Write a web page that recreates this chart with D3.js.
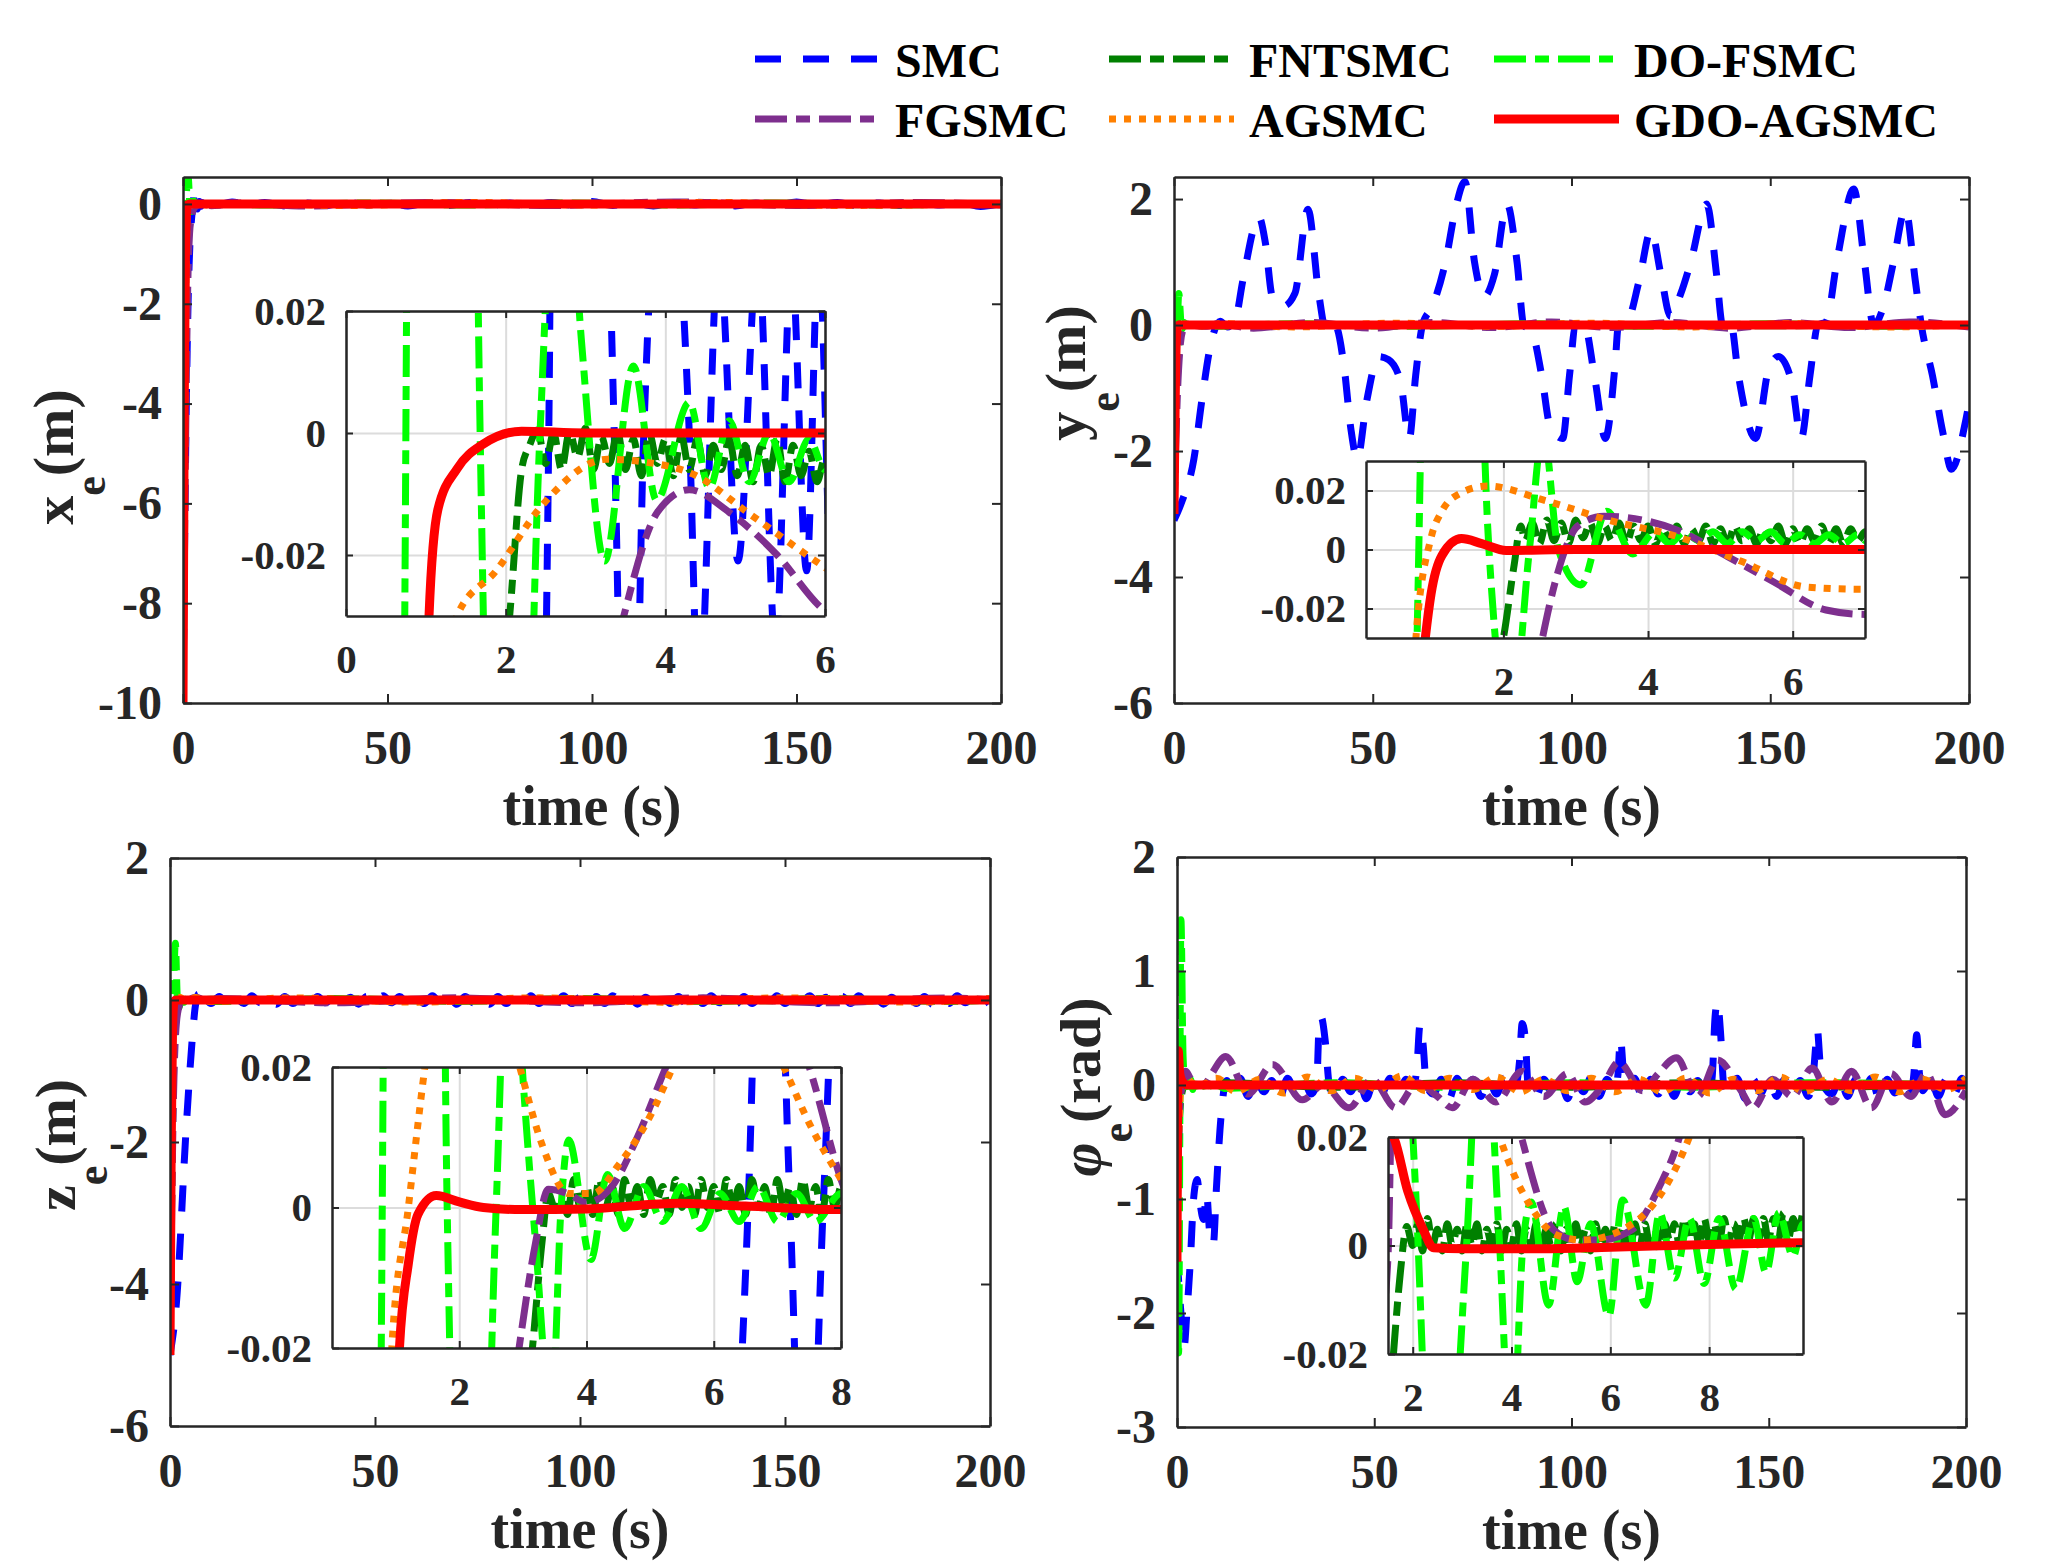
<!DOCTYPE html>
<html>
<head>
<meta charset="utf-8">
<script src="https://cdn.jsdelivr.net/npm/d3@7"></script>
<style>
  body { margin: 0; background: #fff; }
</style>
</head>
<body>
<script>
// Réglages généraux
const W = 2048, H = 1563;
const FONT = '"Liberation Serif","Times New Roman",Times,serif';
const INK = '#262626';

// Séries (ordre du tracé)
const names  = ['SMC', 'FNTSMC', 'DO-FSMC', 'FGSMC', 'AGSMC', 'GDO-AGSMC'];
const colors = ['#0000ff', '#008000', '#00ff00', '#7e2f8e', '#ff8000', '#ff0000'];
const dashes = ['26,22', '32,9,14,9', '32,9,14,9', '32,9,14,9', '7,8', null];
const widths = [7, 7, 7, 7, 7, 9];

// Graduations
const timeTicks = [0, 50, 100, 150, 200];

// ---------- x_e (m) ----------
const xe_smc = [[0,-10],[0.5,-6],[1.0,-3],[1.5,-1.2],[2.0,-0.4],[2.2,-0.2],[2.54,0],[2.7,0.3],[3.05,0.15],[3.36,0],[3.55,-0.1],[3.73,0],[4.0,0.05],[4.3,0],[4.42,-0.045],[4.67,0.03],[4.91,-0.021],[5.16,0.03],[5.38,-0.035],[5.58,0.028],[5.77,-0.0226],[5.92,0.03],[6.1,-0.03],
  [8,-0.03],[12,0.04],[16,-0.02],[20,0.03],[25,-0.04],[30,0.02],[35,-0.03],[40,0.04],[45,-0.02],[50,0.03],[55,-0.04],[60,0.02],[65,-0.03],[70,0.03],[75,-0.03],[80,0.02],[85,-0.04],[90,0.03],[95,-0.02],[100,0.05],[105,-0.03],[110,0.02],[115,-0.04],[120,0.03],[125,-0.02],[130,0.03],[135,-0.04],[140,0.02],[145,-0.03],[150,0.04],[155,-0.02],[160,0.03],[165,-0.04],[170,0.02],[175,-0.03],[180,0.03],[185,-0.02],[190,0.03],[195,-0.05],[200,0.01]];
const xe_fnt = [[0,-10],[0.5,-4],[1.0,-1],[1.5,-0.2],[1.9,-0.05],[2.05,-0.03],[2.2,-0.006],[2.3,-0.002],
  [2.4,0.0005],[2.5,-0.005],[2.6,0.0],[2.7,-0.006],[2.8,0.0003],[2.9,-0.004],[3.0,0.0008],[3.1,-0.006],[3.2,-0.0005],[3.3,-0.005],[3.4,0.0002],[3.5,-0.006],[3.6,-0.001],[3.7,-0.007],[3.8,0.0],[3.9,-0.005],[4.0,-0.001],[4.1,-0.007],[4.2,-0.0005],[4.3,-0.006],[4.4,-0.001],[4.5,-0.007],[4.6,-0.002],[4.7,-0.006],[4.8,-0.001],[4.9,-0.007],[5.0,-0.002],[5.1,-0.008],[5.2,-0.002],[5.3,-0.007],[5.4,-0.001],[5.5,-0.008],[5.6,-0.002],[5.7,-0.007],[5.8,-0.003],[5.9,-0.008],[6.0,-0.004],
  [7,-0.003],[10,0.01],[30,-0.01],[60,0.01],[90,-0.01],[120,0.01],[150,-0.01],[180,0.01],[200,0]];
const xe_dof = [[0,-10],[0.35,-3],[0.6,-0.4],[0.75,0],[1.2,0.6],[1.68,0],[2.05,-0.15],[2.43,0],[2.7,0.06],[2.95,0.015],[3.24,-0.021],[3.6,0.011],[3.89,-0.011],[4.3,0.005],[4.55,-0.009],[4.8,0.002],[5.05,-0.008],[5.3,0.0],[5.55,-0.008],[5.8,-0.001],[6.0,-0.006],
  [8,0.01],[20,-0.02],[45,0.02],[70,-0.02],[95,0.02],[120,-0.02],[145,0.02],[170,-0.02],[200,0.01]];
const xe_fg = [[0,-10],[0.6,-5],[1.2,-1.5],[1.6,-0.6],[2.0,-0.3],[2.5,-0.12],[3.0,-0.06],[3.48,-0.03],[3.9,-0.013],[4.3,-0.0093],[4.8,-0.013],[5.4,-0.02],[5.94,-0.0285],[7,-0.035],[9,-0.02],
  [12,0.02],[30,-0.04],[60,0.03],[90,-0.03],[120,0.04],[150,-0.03],[180,0.03],[200,-0.02]];
const xe_ag = [[0,-10],[0.5,-3],[1.0,-0.3],[1.2,-0.1],[1.3,-0.045],[1.39,-0.03],[1.88,-0.0226],[2.46,-0.0118],[3.27,-0.0043],[3.77,-0.0048],[4.34,-0.0067],[5.07,-0.0134],[5.94,-0.0215],[7,-0.03],[9,-0.01],
  [12,0.01],[40,-0.03],[70,0.03],[100,-0.02],[130,0.03],[160,-0.03],[200,0.01]];
const xe_gdo = [[0,-10],[0.3,-4],[0.6,-1],[0.85,-0.2],[1.04,-0.03],[1.15,-0.0126],[1.39,-0.0059],[1.72,-0.0018],[2.2,0.0003],[3,0],[6,0],[200,0]];

// ---------- y_e (m) ----------
const ye_smc = [[0,-3.1],[2,-2.8],[5,-2.13],[7,-1.2],[9.1,-0.35],[11.6,0.06],[13.5,-0.03],[15.5,0.1],[17.3,0.7],[21.4,1.71],[23,1.3],[24.7,0.46],[27.5,0.3],[30.4,0.5],[33.7,1.84],[36.4,0.5],[38.3,-0.1],[40.5,0.0],[42.8,-0.67],[44.5,-1.65],[46.1,-2.13],[48.5,-1.2],[51.5,-0.5],[54,-0.55],[57,-0.9],[59.2,-1.8],[60.8,-0.8],[62.5,0.0],[65,0.3],[68.3,1.0],[71,1.9],[73.2,2.28],[75.6,1.0],[78,0.45],[80.6,0.8],[83.8,1.92],[86.3,1.0],[88,0.0],[90,-0.1],[92.5,-0.8],[94.6,-1.6],[97.8,-1.8],[99.5,-0.8],[101,0.0],[103,0.05],[106,-0.9],[108.5,-1.8],[111,-0.6],[111.8,0.0],[114,0.05],[117,0.7],[120,1.5],[122.5,0.8],[124.9,0.14],[127.5,0.5],[130,1.0],[134,1.92],[136.5,0.8],[138,0.0],[140,0.05],[142,-0.8],[146.3,-1.8],[149.6,-0.7],[152,-0.5],[155.4,-0.9],[157.8,-1.8],[160,-0.8],[162,0.0],[164,0.05],[167,1.1],[171,2.16],[173.7,1.0],[176,0.0],[178.5,0.3],[181,1.0],[184,1.84],[186.5,0.7],[188,0.0],[190.8,-0.8],[193.4,-1.7],[195.6,-2.29],[198.9,-1.6],[200,-1.24]];
const ye_fnt = [[0,-3],[0.7,-1],[1.4,-0.2],[1.8,-0.05],[2.0,-0.03],[2.15,-0.005],[2.24,0.008],
  [2.3,0.003],[2.4,0.009],[2.5,0.002],[2.6,0.01],[2.7,0.003],[2.8,0.009],[2.9,0.002],[3.0,0.01],[3.1,0.004],[3.2,0.009],[3.3,0.002],[3.4,0.008],[3.5,0.003],[3.6,0.009],[3.7,0.002],[3.8,0.008],[3.9,0.003],[4.0,0.008],[4.1,0.002],[4.2,0.007],[4.3,0.003],[4.4,0.008],[4.5,0.002],[4.6,0.007],[4.7,0.003],[4.8,0.008],[4.9,0.002],[5.0,0.007],[5.1,0.002],[5.2,0.008],[5.3,0.003],[5.4,0.007],[5.5,0.002],[5.6,0.007],[5.7,0.003],[5.8,0.008],[5.9,0.002],[6.0,0.007],[6.1,0.002],[6.2,0.007],[6.3,0.003],[6.4,0.008],[6.5,0.002],[6.6,0.007],[6.7,0.002],[6.8,0.007],[6.9,0.003],[7.0,0.006],
  [10,0.01],[50,-0.01],[100,0.01],[150,-0.01],[200,0.01]];
const ye_dof = [[0,-3],[0.3,-1.2],[0.6,-0.3],[0.83,0],[1.2,0.5],[1.8,0],[2.1,-0.06],[2.36,0],[2.55,0.04],[2.76,0],[3.07,-0.012],[3.43,0.013],[3.79,-0.0015],[4.1,0.006],[4.3,0.002],[4.5,0.006],[4.7,0.003],[4.9,0.006],[5.1,0.002],[5.3,0.006],[5.5,0.003],[5.7,0.006],[5.9,0.002],[6.1,0.005],[6.3,0.002],[6.5,0.005],[6.7,0.002],[6.9,0.005],[7.0,0.003],
  [10,-0.02],[30,0.02],[60,-0.02],[90,0.02],[120,-0.02],[150,0.02],[180,-0.02],[200,0.01]];
const ye_fg = [[0,-3],[0.8,-1.2],[1.6,-0.3],[2.2,-0.08],[2.54,-0.03],[2.75,-0.008],[3.03,0.008],[3.39,0.0113],[4.39,0.0067],[5.1,-0.0024],[5.74,-0.011],[6.46,-0.0205],[7,-0.022],[8.5,-0.02],
  [11,0.02],[20,-0.05],[35,0.04],[50,-0.05],[65,0.04],[80,-0.04],[95,0.05],[110,-0.04],[125,0.04],[140,-0.05],[155,0.04],[170,-0.04],[185,0.05],[200,-0.03]];
const ye_ag = [[0,-3],[0.3,-1],[0.55,-0.15],[0.79,-0.03],[1.0,0.004],[1.15,0.013],[1.4,0.019],[1.78,0.0215],[2.59,0.0165],[3.49,0.0097],[4.39,0.0045],[5.29,-0.004],[6.19,-0.0127],[7,-0.0135],[9,-0.005],
  [12,0.02],[30,-0.03],[55,0.03],[80,-0.02],[105,0.03],[130,-0.03],[155,0.02],[180,-0.03],[200,0.01]];
const ye_gdo = [[0,-3.0],[0.3,-1.2],[0.6,-0.2],[0.8,-0.06],[0.92,-0.03],[1.0,-0.015],[1.15,-0.002],[1.42,0.0037],[1.7,0.002],[2.04,-0.0003],[3,0],[7,0],[200,0]];

// ---------- z_e (m) ----------
const ze_smc = [[0,-5],[1.56,-4.27],[3.95,-1.8],[5.5,-0.5],[6.2,-0.08],[6.54,0],[6.85,0.08],[7.2,0],[7.45,-0.06],[7.72,0],[8.0,0.05],
  [10,-0.05],[12,0.05],[14,-0.06],[16,0.04],[18,-0.05],[20,0.06],[22,-0.04],[24,0.05],[26,-0.06],[28,0.05],[30,-0.05],[32,0.04],[34,-0.06],[36,0.05],[38,-0.04],[40,0.06],[42,-0.05],[44,0.04],[46,-0.06],[48,0.05],[50,-0.05],[52,0.06],[54,-0.04],[56,0.05],[58,-0.06],[60,0.04],[62,-0.05],[64,0.06],[66,-0.05],[68,0.04],[70,-0.06],[72,0.05],[74,-0.04],[76,0.05],[78,-0.06],[80,0.05],[82,-0.05],[84,0.04],[86,-0.06],[88,0.06],[90,-0.05],[92,0.05],[94,-0.04],[96,0.06],[98,-0.05],[100,0.04],[102,-0.06],[104,0.05],[106,-0.05],[108,0.06],[110,-0.04],[112,0.05],[114,-0.06],[116,0.04],[118,-0.05],[120,0.06],[122,-0.05],[124,0.05],[126,-0.06],[128,0.04],[130,-0.05],[132,0.06],[134,-0.04],[136,0.05],[138,-0.06],[140,0.05],[142,-0.05],[144,0.04],[146,-0.06],[148,0.06],[150,-0.05],[152,0.05],[154,-0.04],[156,0.06],[158,-0.05],[160,0.04],[162,-0.06],[164,0.05],[166,-0.05],[168,0.06],[170,-0.04],[172,0.05],[174,-0.06],[176,0.04],[178,-0.05],[180,0.06],[182,-0.05],[184,0.05],[186,-0.06],[188,0.04],[190,-0.05],[192,0.06],[194,-0.04],[196,0.05],[198,-0.06],[200,0.03]];
const ze_fnt = [[0,-5],[0.8,-1.2],[1.6,-0.2],[2.5,-0.05],[3.15,-0.02],[3.3,-0.005],[3.4,0.002],
  [3.5,0.0],[3.6,0.003],[3.7,-0.001],[3.8,0.004],[3.9,0.0],[4.0,0.003],[4.1,-0.001],[4.2,0.004],[4.3,0.0],[4.4,0.003],[4.5,-0.001],[4.6,0.004],[4.7,0.0],[4.8,0.003],[4.9,-0.001],[5.0,0.004],[5.1,0.001],[5.2,0.003],[5.3,-0.001],[5.4,0.004],[5.5,0.0],[5.6,0.003],[5.7,-0.001],[5.8,0.004],[5.9,0.0],[6.0,0.003],[6.1,-0.001],[6.2,0.004],[6.3,0.0],[6.4,0.003],[6.5,-0.001],[6.6,0.004],[6.7,0.0],[6.8,0.003],[6.9,-0.001],[7.0,0.004],[7.1,0.0],[7.2,0.003],[7.3,-0.001],[7.4,0.004],[7.5,0.0],[7.6,0.003],[7.7,-0.001],[7.8,0.004],[7.9,0.0],[8.0,0.003],
  [10,0.01],[50,-0.01],[100,0.01],[150,-0.01],[200,0]];
const ze_dof = [[0,-5],[0.3,-1.5],[0.55,-0.3],[0.79,0],[1.3,0.8],[1.81,0],[2.2,-0.1],[2.58,0],[2.8,0.05],[2.99,0.02],[3.2,-0.005],[3.45,-0.03],[3.6,0.0],[3.72,0.0096],[4.07,-0.0074],[4.33,0.0047],[4.6,-0.003],[4.9,0.003],[5.2,-0.002],[5.5,0.003],[5.8,-0.003],[6.1,0.002],[6.4,-0.002],[6.7,0.003],[7.0,-0.002],[7.3,0.002],[7.6,-0.002],[8.0,0.002],
  [10,-0.02],[40,0.02],[70,-0.02],[100,0.02],[130,-0.02],[160,0.02],[190,-0.02],[200,0]];
const ze_fg = [[0,-5],[0.8,-1.5],[1.6,-0.3],[2.4,-0.06],[2.94,-0.02],[3.2,-0.005],[3.4,0.0026],[3.7,0.002],[4.0,0.0007],[4.4,0.003],[4.8,0.01],[5.25,0.02],[6.3,0.04],[7.5,0.02],[8,0.004],[9,-0.01],
  [12,0.02],[40,-0.04],[70,0.03],[100,-0.04],[130,0.03],[160,-0.04],[190,0.03],[200,0]];
const ze_ag = [[0,-5],[0.4,-1.5],[0.7,-0.2],[0.94,-0.02],[1.2,0.0],[1.46,0.02],[1.8,0.04],[2.5,0.035],[2.95,0.02],[3.3,0.009],[3.72,0.002],[4.1,0.002],[4.5,0.006],[5.0,0.013],[5.36,0.02],[6.2,0.035],[7.1,0.02],[7.5,0.012],[8,0.004],
  [10,-0.02],[30,0.03],[60,-0.03],[90,0.03],[120,-0.03],[150,0.03],[180,-0.03],[200,0.02]];
const ze_gdo = [[0,-5],[0.3,-2],[0.6,-0.5],[0.85,-0.08],[1.06,-0.02],[1.2,-0.008],[1.35,-0.001],[1.64,0.0017],[2.0,0.0008],[2.38,0],[2.99,-0.0003],[4.0,-0.0002],[5.46,0.0006],[6.5,0.0002],[8,-0.0003],[200,0]];

// ---------- phi_e (rad) ----------
const phi_smc = [[0,-1.5],[1.0,-2.0],[1.8,-2.3],[2.5,-2.0],[3.4,-1.53],[4.2,-1.0],[5.1,-0.83],[5.9,-1.05],[6.7,-1.18],[7.5,-0.95],[8.3,-1.3],[9.2,-1.4],[10.0,-0.9],[10.9,-0.39],[12.6,0.04],
  [14,-0.08],[16,0.06],[18,-0.1],[20,0.05],[22,-0.06],[24,0.04],[26,-0.12],[28,0.06],[30,-0.05],[32,0.05],[34,-0.08],[35.4,0.0],[36.0,0.5],[36.6,0.59],[37.6,0.38],[38.6,0.0],
  [40,-0.1],[42,0.05],[44,-0.06],[46,0.07],[48,-0.12],[50,0.04],[52,-0.07],[54,0.06],[56,-0.1],[58,0.05],[60,0.0],[60.8,0.15],[61.6,0.53],[62.4,0.35],[63.2,0.0],
  [65,-0.08],[67,0.05],[69,-0.12],[71,0.06],[73,-0.06],[75,0.05],[77,-0.1],[79,0.04],[81,-0.08],[83,0.06],[85,-0.05],[86,0.0],[86.8,0.2],[87.5,0.54],[88.3,0.4],[89,0.0],
  [91,-0.1],[93,0.05],[95,-0.07],[97,0.06],[99,-0.12],[101,0.05],[103,-0.06],[105,0.07],[107,-0.1],[109,0.05],[111,-0.05],[111.8,0.1],[112.4,0.41],[113.2,0.1],[114,-0.05],
  [116,0.06],[118,-0.12],[120,0.05],[122,-0.08],[124,0.06],[126,-0.1],[128,0.05],[130,-0.06],[132,0.04],[134,-0.1],[135.6,0.05],[136.4,0.6],[137,0.73],[137.8,0.45],[138.6,0.0],
  [140,-0.08],[142,0.06],[144,-0.12],[146,0.05],[148,-0.07],[150,0.06],[152,-0.1],[154,0.05],[156,-0.06],[158,0.04],[160,-0.1],[161.2,0.05],[161.8,0.3],[162.3,0.49],[163,0.2],[163.8,0.0],
  [166,-0.08],[168,0.06],[170,-0.1],[172,0.05],[174,-0.06],[176,0.06],[178,-0.12],[180,0.05],[182,-0.07],[184,0.04],[186,-0.06],[186.8,0.1],[187.5,0.44],[188.2,0.1],[189,-0.05],
  [191,0.06],[193,-0.1],[195,0.05],[197,-0.08],[199,0.06],[200,-0.05]];
const phi_fnt = [[0,-1.2],[0.6,-0.3],[1.2,-0.08],[1.61,-0.02],[1.75,-0.005],[1.88,0.0035],
  [2.0,0.0],[2.1,0.004],[2.2,-0.001],[2.3,0.005],[2.4,0.0],[2.5,0.003],[2.6,-0.001],[2.7,0.004],[2.8,0.0],[2.9,0.003],[3.0,-0.001],[3.1,0.004],[3.2,0.0],[3.3,0.004],[3.4,-0.001],[3.5,0.003],[3.6,0.0],[3.7,0.004],[3.8,-0.001],[3.9,0.003],[4.0,0.0],[4.1,0.004],[4.2,-0.001],[4.3,0.003],[4.4,0.0],[4.5,0.004],[4.6,-0.001],[4.7,0.003],[4.8,0.0],[4.9,0.004],[5.0,-0.001],[5.1,0.003],[5.2,0.0],[5.3,0.004],[5.4,0.0],[5.5,0.003],[5.6,-0.001],[5.7,0.004],[5.8,0.0],[5.9,0.003],[6.0,0.0],[6.1,0.004],[6.2,0.0],[6.3,0.003],[6.4,-0.001],[6.5,0.004],[6.6,0.0],[6.7,0.004],[6.8,0.0],[6.9,0.003],[7.0,0.0],[7.1,0.004],[7.2,0.001],[7.3,0.004],[7.4,0.0],[7.5,0.005],[7.6,0.001],[7.7,0.004],[7.8,0.0],[7.9,0.005],[8.0,0.001],[8.1,0.004],[8.2,0.0],[8.3,0.005],[8.4,0.001],[8.5,0.004],[8.6,0.001],[8.7,0.005],[8.8,0.001],[8.9,0.005],[9.0,0.001],[9.1,0.005],[9.2,0.001],[9.3,0.005],[9.4,0.001],[9.5,0.006],[9.6,0.001],[9.7,0.005],[9.8,0.002],[9.9,0.006],
  [12,0.02],[40,-0.02],[70,0.02],[100,-0.02],[130,0.02],[160,-0.02],[200,0.01]];
const phi_dof = [[0,-1.55],[0.4,-2.35],[1.0,1.45],[1.5,0.3],[1.8,0.08],[2.11,0.0],[2.5,-0.07],[3.09,0.0],[3.4,0.05],[3.76,0.0],[4.0,-0.04],[4.23,0.0],[4.4,0.008],[4.75,-0.011],[5.06,0.0072],[5.33,-0.0067],[5.6,0.004],[5.97,-0.013],[6.25,0.0084],[6.72,-0.011],[7.0,0.006],[7.3,-0.006],[7.6,0.005],[7.9,-0.007],[8.2,0.005],[8.54,-0.008],[8.9,0.005],[9.15,-0.005],[9.41,0.006],[9.7,-0.002],[9.9,0.004],
  [12,-0.03],[40,0.02],[70,-0.02],[100,0.02],[130,-0.02],[160,0.02],[200,0]];
const phi_fg = [[0,-1.2],[0.7,-0.2],[1.2,-0.03],[1.5,-0.002],[1.58,0.03],[2.2,0.12],[3.2,0.07],[3.8,0.035],[4.2,0.02],[4.84,0.003],[5.31,0.001],[5.78,0.001],[6.45,0.003],[7.0,0.011],[7.4,0.02],[8.5,0.08],
  [12.4,0.25],[18,-0.08],[24.2,0.18],[31.8,-0.13],[37,0.0],[43.6,-0.2],[49.5,0.05],[55.4,-0.2],[61,0.02],[66,-0.1],[69.8,-0.2],[75,0.05],[80.8,-0.15],[87.5,0.12],[93,-0.1],[99,0.1],[103.4,-0.15],[108,0.0],[112,0.2],[118,-0.05],[122,0.1],[126.6,0.24],[132,-0.1],[137,0.22],[143,-0.05],[146,-0.2],[151,0.05],[156,-0.1],[161,0.15],[166,-0.15],[171,0.12],[176,-0.2],[181,0.1],[186,-0.1],[190,0.1],[194.7,-0.26],[200,-0.05]];
const phi_ag = [[0,-1.2],[0.8,-0.1],[1.5,0.05],[2.5,0.06],[3.3,0.035],[3.76,0.02],[4.43,0.0066],[4.9,0.002],[5.44,0.001],[6.45,0.004],[7.13,0.011],[7.6,0.02],[8.5,0.05],
  [10,0.06],[15,-0.06],[21,0.05],[27,-0.07],[33,0.07],[39,-0.05],[45,0.06],[51,-0.04],[57,0.08],[63,-0.05],[69,0.06],[75,-0.04],[81,0.07],[87,-0.06],[93,0.05],[99,-0.05],[105,0.06],[111,-0.06],[117,0.05],[123,-0.06],[129,0.06],[135,-0.07],[141,0.05],[147,-0.05],[153,0.07],[159,-0.06],[165,0.05],[171,-0.05],[177,0.07],[183,-0.06],[189,0.05],[195,-0.04],[200,0.06]];
const phi_gdo = [[0,-1.55],[0.3,0.3],[0.7,0.1],[1.2,0.04],[1.5,0.021],[1.61,0.02],[1.9,0.01],[2.21,0.003],[2.42,-0.0004],[3.0,-0.0006],[4.6,-0.0006],[6.0,-0.0003],[8.0,0.0002],[9.9,0.0005],[200,0]];

// Mise en page des quatre axes (positions seulement)
const panels = [
  { box: {l: 183, t: 177, r: 1001, b: 703}, ydom: [-10, 0.54], yticks: [-10, -8, -6, -4, -2, 0],
    lab: {main: 'x', rest: '(m)', x: 73, y: 457, sub: 32}, tlab: 122,
    inset: {box: {l: 346, t: 311, r: 825, b: 616}, xdom: [0, 6], ydom: [-0.03, 0.02], xticks: [0, 2, 4, 6], yticks: [-0.02, 0, 0.02]},
    data: [xe_smc, xe_fnt, xe_dof, xe_fg, xe_ag, xe_gdo] },
  { box: {l: 1174, t: 177, r: 1969, b: 703}, ydom: [-6, 2.35], yticks: [-6, -4, -2, 0, 2],
    lab: {main: 'y', rest: '(m)', x: 1085, y: 373, sub: 34}, tlab: 122,
    inset: {box: {l: 1366, t: 461, r: 1865, b: 638}, xdom: [0.1, 7], ydom: [-0.03, 0.03], xticks: [2, 4, 6], yticks: [-0.02, 0, 0.02]},
    data: [ye_smc, ye_fnt, ye_dof, ye_fg, ye_ag, ye_gdo] },
  { box: {l: 170, t: 858, r: 990, b: 1426}, ydom: [-6, 2], yticks: [-6, -4, -2, 0, 2],
    lab: {main: 'z', rest: '(m)', x: 75, y: 1145, sub: 32}, tlab: 122,
    inset: {box: {l: 332, t: 1067, r: 841, b: 1348}, xdom: [0, 8], ydom: [-0.02, 0.02], xticks: [2, 4, 6, 8], yticks: [-0.02, 0, 0.02]},
    data: [ze_smc, ze_fnt, ze_dof, ze_fg, ze_ag, ze_gdo] },
  { box: {l: 1177, t: 857, r: 1966, b: 1427}, ydom: [-3, 2], yticks: [-3, -2, -1, 0, 1, 2],
    lab: {main: 'φ', rest: '(rad)', x: 1100, y: 1087, sub: 32, italic: true}, tlab: 122,
    inset: {box: {l: 1388, t: 1137, r: 1803, b: 1354}, xdom: [1.5, 9.9], ydom: [-0.02, 0.02], xticks: [2, 4, 6, 8], yticks: [-0.02, 0, 0.02]},
    data: [phi_smc, phi_fnt, phi_dof, phi_fg, phi_ag, phi_gdo] }
];

const svg = d3.select('body').append('svg')
  .attr('width', W).attr('height', H)
  .style('background', '#fff');
const defs = svg.append('defs');
let clipId = 0;

function textStyle(s, size) {
  s.attr('font-family', FONT).attr('font-weight', 'bold').attr('font-size', size);
}

// Cadre + graduations vers l'intérieur sur les quatre côtés
function frame(g, x, y, xt, yt, o) {
  const [l, r] = x.range(), [b, t] = y.range();
  g.attr('color', INK);
  g.append('g').attr('transform', `translate(0,${b})`)
    .call(d3.axisBottom(x).tickValues(xt).tickSizeInner(-o.tick).tickSizeOuter(0).tickPadding(o.xpad).tickFormat(String))
    .call(s => textStyle(s, o.fs));
  g.append('g').attr('transform', `translate(0,${t})`)
    .call(d3.axisTop(x).tickValues(xt).tickSizeInner(-o.tick).tickSizeOuter(0))
    .call(s => s.selectAll('text').remove());
  g.append('g').attr('transform', `translate(${l},0)`)
    .call(d3.axisLeft(y).tickValues(yt).tickSizeInner(-o.tick).tickSizeOuter(0).tickPadding(o.ypad).tickFormat(String))
    .call(s => textStyle(s, o.fs));
  g.append('g').attr('transform', `translate(${r},0)`)
    .call(d3.axisRight(y).tickValues(yt).tickSizeInner(-o.tick).tickSizeOuter(0))
    .call(s => s.selectAll('text').remove());
  g.selectAll('.domain').attr('stroke-width', 2.5);
  g.selectAll('.tick line').attr('stroke-width', 2);
  g.selectAll('.tick text').attr('fill', INK);
}

function drawSeries(g, x, y, data, box) {
  const id = 'clip' + (clipId++);
  defs.append('clipPath').attr('id', id).append('rect')
    .attr('x', box.l).attr('y', box.t).attr('width', box.r - box.l).attr('height', box.b - box.t);
  const line = d3.line().x(d => x(d[0])).y(d => y(d[1])).curve(d3.curveMonotoneX);
  const lg = g.append('g').attr('clip-path', `url(#${id})`);
  data.forEach((s, i) => {
    lg.append('path').datum(s)
      .attr('d', line)
      .attr('fill', 'none')
      .attr('stroke', colors[i])
      .attr('stroke-width', widths[i])
      .attr('stroke-dasharray', dashes[i])
      .attr('stroke-linejoin', 'round');
  });
}

function grid(gi, xi, yi, ib, xt, yt) {
  const gstyle = s => { s.select('.domain').remove(); s.selectAll('text').remove(); s.selectAll('line').attr('stroke', '#dcdcdc').attr('stroke-width', 1.5); };
  gi.append('g').attr('transform', `translate(0,${ib.b})`)
    .call(d3.axisBottom(xi).tickValues(xt).tickSize(-(ib.b - ib.t)))
    .call(gstyle);
  gi.append('g').attr('transform', `translate(${ib.l},0)`)
    .call(d3.axisLeft(yi).tickValues(yt).tickSize(-(ib.r - ib.l)))
    .call(gstyle);
}

panels.forEach(p => {
  const g = svg.append('g');
  const x = d3.scaleLinear().domain([0, 200]).range([p.box.l, p.box.r]);
  const y = d3.scaleLinear().domain(p.ydom).range([p.box.b, p.box.t]);

  drawSeries(g, x, y, p.data, p.box);
  frame(g, x, y, timeTicks, p.yticks, {tick: 9, xpad: 27, ypad: 21, fs: 48});

  // titre de l'axe horizontal
  g.append('text')
    .attr('x', (p.box.l + p.box.r) / 2).attr('y', p.box.b + p.tlab)
    .attr('text-anchor', 'middle').attr('fill', INK)
    .call(s => textStyle(s, 56))
    .text('time (s)');

  // titre de l'axe vertical avec indice
  const yl = g.append('text')
    .attr('transform', `translate(${p.lab.x},${p.lab.y}) rotate(-90)`)
    .attr('text-anchor', 'middle').attr('fill', INK)
    .call(s => textStyle(s, 58));
  yl.append('tspan').attr('font-style', p.lab.italic ? 'italic' : null).text(p.lab.main);
  yl.append('tspan').attr('font-size', 44).attr('dy', p.lab.sub).text('e');
  yl.append('tspan').attr('dy', -p.lab.sub).text(p.lab.rest);

  // encart agrandi
  const ib = p.inset.box;
  const gi = svg.append('g');
  const xi = d3.scaleLinear().domain(p.inset.xdom).range([ib.l, ib.r]);
  const yi = d3.scaleLinear().domain(p.inset.ydom).range([ib.b, ib.t]);
  gi.append('rect').attr('x', ib.l).attr('y', ib.t)
    .attr('width', ib.r - ib.l).attr('height', ib.b - ib.t).attr('fill', '#fff');
  grid(gi, xi, yi, ib, p.inset.xticks, p.inset.yticks);
  drawSeries(gi, xi, yi, p.data, ib);
  frame(gi, xi, yi, p.inset.xticks, p.inset.yticks, {tick: 7, xpad: 28, ypad: 20, fs: 41});
});

// Légende (trois colonnes, deux lignes)
const legendCols = [755, 1109, 1494];
const legendRows = [59, 119];
const legendOrder = [[0, 1, 2], [3, 4, 5]];
const leg = svg.append('g');
legendOrder.forEach((row, r) => row.forEach((k, c) => {
  const x0 = legendCols[c], yy = legendRows[r];
  leg.append('line')
    .attr('x1', x0).attr('x2', x0 + 125).attr('y1', yy).attr('y2', yy)
    .attr('stroke', colors[k]).attr('stroke-width', widths[k])
    .attr('stroke-dasharray', dashes[k]);
  leg.append('text')
    .attr('x', x0 + 140).attr('y', yy + 18)
    .attr('fill', '#000')
    .call(s => textStyle(s, 48))
    .text(names[k]);
}));
</script>
</body>
</html>
